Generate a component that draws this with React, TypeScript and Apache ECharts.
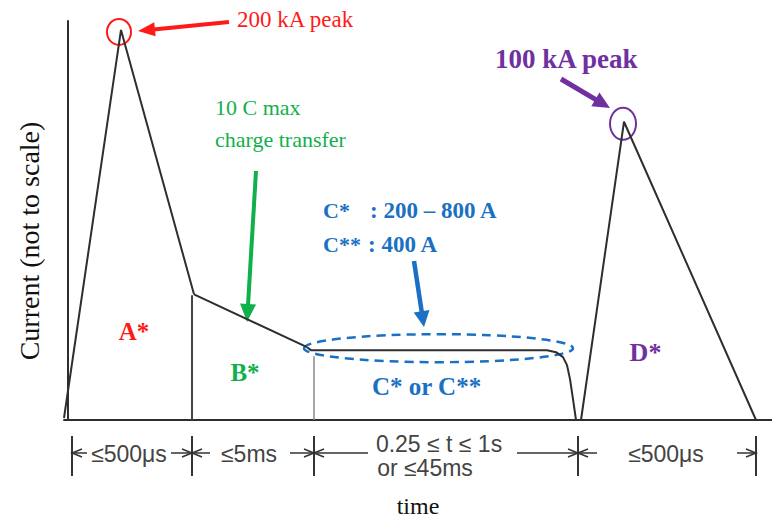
import React, { useEffect, useRef } from "react";
import * as echarts from "echarts";

// ---- Waveform data (time units / current units, not to scale) ----
const componentA: [number, number][] = [[-4, 2], [53, 391], [126, 126]];
const componentB: [number, number][] = [[126, 126], [239, 73]];
const componentC: [number, number][] = [
  [239, 73], [243, 70], [479, 70], [488, 68], [495, 63], [499, 55], [502, 41], [505, 21], [508, 0],
];
const componentD: [number, number][] = [[508, 0], [513, 0], [556, 299], [688, 0]];
const dividerB: [number, number][] = [[124, 0], [124, 125]];
const dividerC: [number, number][] = [[246, 0], [246, 64]];

// phase boundaries along the time axis (dimension ticks)
const phaseBounds = [4, 124, 246, 510, 688];
const phaseLabels = [["≤500μs"], ["≤5ms"], ["0.25 ≤ t ≤ 1s", "or ≤45ms"], ["≤500μs"]];

const RED = "#FF1A1A";
const GREEN = "#10B04C";
const BLUE = "#1A70C2";
const PURPLE = "#7030A0";
const INK = "#2e2e2e";
const SERIF = '"Liberation Serif", "Times New Roman", serif';
const SANS = '"Liberation Sans", Arial, sans-serif';

function arrow(x1: number, y1: number, x2: number, y2: number, w: number, L: number, H: number, color: string) {
  const dx = x2 - x1, dy = y2 - y1, len = Math.hypot(dx, dy);
  const ux = dx / len, uy = dy / len, nx = -uy, ny = ux;
  const bx = x2 - ux * L, by = y2 - uy * L;
  return [
    { type: "line", silent: true, shape: { x1, y1, x2: bx + ux * 1.5, y2: by + uy * 1.5 }, style: { stroke: color, lineWidth: w } },
    { type: "polygon", silent: true, shape: { points: [[x2, y2], [bx + nx * H, by + ny * H], [bx - nx * H, by - ny * H]] }, style: { fill: color } },
  ];
}

function chevron(x: number, y: number, dir: number) {
  return {
    type: "polyline", silent: true,
    shape: { points: [[x - dir * 10, y - 4], [x, y], [x - dir * 10, y + 4]] },
    style: { stroke: "#333", lineWidth: 1.5, fill: "none" },
  };
}

function txt(x: number, y: number, text: string, fill: string, font: string, align = "left") {
  return { type: "text", silent: true, x, y, style: { text, fill, font, align, verticalAlign: "middle" } };
}

export default function App() {
  const ref = useRef<HTMLDivElement>(null);
  useEffect(() => {
    if (!ref.current) return;
    const chart = echarts.init(ref.current, null, { renderer: "svg" });
    const lineSeries = (data: [number, number][], color = INK, width = 2) => ({
      type: "line", data, showSymbol: false, symbol: "none", silent: true,
      lineStyle: { color, width }, z: 3,
    });
    chart.setOption({
      animation: false,
      grid: { left: 64, right: 0, top: 21, bottom: 102 },
      xAxis: {
        type: "value", min: -4, max: 704,
        axisLine: { show: true, onZero: true, lineStyle: { color: INK, width: 2 } },
        axisTick: { show: false }, axisLabel: { show: false }, splitLine: { show: false },
        name: "time", nameLocation: "middle", nameGap: 74,
        nameTextStyle: { fontFamily: SERIF, fontSize: 24, color: "#111" },
      },
      yAxis: {
        type: "value", min: 0, max: 400,
        axisLine: { show: true, onZero: true, lineStyle: { color: INK, width: 2 } },
        axisTick: { show: false }, axisLabel: { show: false }, splitLine: { show: false },
      },
      series: [
        lineSeries(componentA),
        lineSeries(componentB),
        lineSeries(componentC),
        lineSeries(componentD),
        lineSeries(dividerB, "#444", 2),
        lineSeries(dividerC, "#888", 1.5),
      ],
    });

    const P = (x: number, y: number) => chart.convertToPixel({ gridIndex: 0 }, [x, y]) as number[];
    const peakA = P(componentA[1][0], componentA[1][1]);
    const peakD = P(componentD[2][0], componentD[2][1]);
    const plateauL = P(componentC[0][0], componentC[1][1]);
    const plateauR = P(componentC[componentC.length - 4][0], componentC[1][1]);

    const g: any[] = [];
    // y-axis title
    g.push({
      type: "text", silent: true, x: 29, y: 241, rotation: Math.PI / 2,
      style: { text: "Current (not to scale)", fill: "#111", font: `28px ${SERIF}`, align: "center", verticalAlign: "middle" },
    });
    // peak A annotation
    g.push({ type: "ellipse", silent: true, shape: { cx: peakA[0] - 2, cy: peakA[1] + 2, rx: 12, ry: 13 }, style: { stroke: RED, lineWidth: 2, fill: "none" } });
    g.push(...arrow(229, 22, 138, 31, 4, 17, 7, RED));
    g.push(txt(237, 19.5, "200 kA peak", RED, `23px ${SERIF}`));
    // B annotation
    g.push(txt(215, 107.5, "10 C max", GREEN, `22px ${SERIF}`));
    g.push(txt(215, 139.5, "charge transfer", GREEN, `22px ${SERIF}`));
    g.push(...arrow(256, 171, 247, 322, 4, 18, 8, GREEN));
    // C annotation
    g.push(txt(323, 210, "C*", BLUE, `bold 22px ${SERIF}`));
    g.push(txt(370, 210, ": 200 – 800 A", BLUE, `bold 23px ${SERIF}`));
    g.push(txt(323, 244, "C**", BLUE, `bold 22px ${SERIF}`));
    g.push(txt(368, 244, ": 400 A", BLUE, `bold 23px ${SERIF}`));
    g.push(...arrow(414, 261, 424, 327, 4.5, 16, 8, BLUE));
    const ecx = (plateauL[0] + plateauR[0]) / 2 + 1.5;
    g.push({
      type: "ellipse", silent: true,
      shape: { cx: ecx, cy: plateauL[1] - 2, rx: 134.5, ry: 14 },
      style: { stroke: BLUE, lineWidth: 2.5, lineDash: [9, 6], fill: "none" },
    });
    g.push(txt(426.5, 386, "C* or C**", BLUE, `bold 25px ${SERIF}`, "center"));
    // D annotation
    g.push({ type: "ellipse", silent: true, shape: { cx: peakD[0] - 1, cy: peakD[1] + 2, rx: 13, ry: 16 }, style: { stroke: PURPLE, lineWidth: 2, fill: "none" } });
    g.push(...arrow(561, 79, 610, 108, 5, 17, 8, PURPLE));
    g.push(txt(495, 59, "100 kA peak", PURPLE, `bold 27px ${SERIF}`));
    // component labels
    g.push(txt(134, 331.5, "A*", RED, `bold 25px ${SERIF}`, "center"));
    g.push(txt(245, 372.5, "B*", GREEN, `bold 25px ${SERIF}`, "center"));
    g.push(txt(645.5, 352, "D*", PURPLE, `bold 26px ${SERIF}`, "center"));

    // dimension row
    const dimY = 453;
    const tickX = phaseBounds.map((b) => P(b, 0)[0]);
    tickX.forEach((x) => {
      g.push({ type: "line", silent: true, shape: { x1: x, y1: 436, x2: x, y2: 476 }, style: { stroke: "#333", lineWidth: 2 } });
    });
    const textCenters = [129, 249, 439, 666];
    const leftLens = [15, 18, 54, 19];
    const rightLens = [21, 24, 61, 19];
    for (let i = 0; i < 4; i++) {
      const a = tickX[i], b = tickX[i + 1];
      g.push({ type: "line", silent: true, shape: { x1: a, y1: dimY, x2: a + leftLens[i], y2: dimY }, style: { stroke: "#333", lineWidth: 1.5 } });
      g.push({ type: "line", silent: true, shape: { x1: b - rightLens[i], y1: dimY, x2: b, y2: dimY }, style: { stroke: "#333", lineWidth: 1.5 } });
      g.push(chevron(a, dimY, -1));
      g.push(chevron(b, dimY, 1));
      const lines = phaseLabels[i];
      if (lines.length === 1) {
        g.push(txt(textCenters[i], 454, lines[0], "#444", `23px ${SANS}`, "center"));
      } else {
        g.push(txt(textCenters[i], 444, lines[0], "#444", `23px ${SANS}`, "center"));
        g.push(txt(textCenters[i] - 14, 468, lines[1], "#444", `23px ${SANS}`, "center"));
      }
    }
    chart.setOption({ graphic: { elements: g } });
    return () => chart.dispose();
  }, []);
  return <div ref={ref} style={{ position: "fixed", left: 0, top: 0, width: 772, height: 523, background: "#fff" }} />;
}
